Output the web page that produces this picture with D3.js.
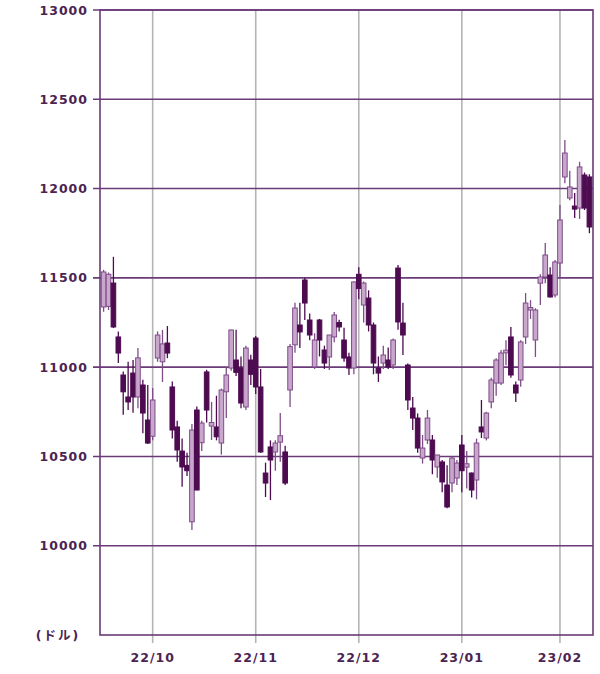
<!DOCTYPE html>
<html><head><meta charset="utf-8">
<script src="https://cdn.jsdelivr.net/npm/d3@7"></script>
<style>
html,body{margin:0;padding:0;background:#fff;}
svg{display:block;}
text{font-family:"DejaVu Sans","Noto Sans CJK JP",sans-serif;font-weight:bold;fill:#4b2352;}
</style></head>
<body>
<svg id="chart" width="600" height="674"></svg>
<script>
const dates = [
"2022-09-19","2022-09-20","2022-09-21","2022-09-22","2022-09-23","2022-09-26","2022-09-27","2022-09-28","2022-09-29","2022-09-30",
"2022-10-03","2022-10-04","2022-10-05","2022-10-06","2022-10-07","2022-10-10","2022-10-11","2022-10-12","2022-10-13","2022-10-14",
"2022-10-17","2022-10-18","2022-10-19","2022-10-20","2022-10-21","2022-10-24","2022-10-25","2022-10-26","2022-10-27","2022-10-28","2022-10-31",
"2022-11-01","2022-11-02","2022-11-03","2022-11-04","2022-11-07","2022-11-08","2022-11-09","2022-11-10","2022-11-11","2022-11-14",
"2022-11-15","2022-11-16","2022-11-17","2022-11-18","2022-11-21","2022-11-22","2022-11-23","2022-11-25","2022-11-28","2022-11-29","2022-11-30",
"2022-12-01","2022-12-02","2022-12-05","2022-12-06","2022-12-07","2022-12-08","2022-12-09","2022-12-12","2022-12-13","2022-12-14",
"2022-12-15","2022-12-16","2022-12-19","2022-12-20","2022-12-21","2022-12-22","2022-12-23","2022-12-27","2022-12-28","2022-12-29","2022-12-30",
"2023-01-03","2023-01-04","2023-01-05","2023-01-06","2023-01-09","2023-01-10","2023-01-11","2023-01-12","2023-01-13","2023-01-17",
"2023-01-18","2023-01-19","2023-01-20","2023-01-23","2023-01-24","2023-01-25","2023-01-26","2023-01-27","2023-01-30","2023-01-31",
"2023-02-01","2023-02-02","2023-02-03","2023-02-06","2023-02-07","2023-02-08","2023-02-09"
];
const open = [
11337,11340,11471,11169,10956,10833,10967,10833,10900,10704,
10613,11051,11030,11135,10889,10665,10530,10450,10134,10760,
10577,10973,10670,10665,10575,10862,10995,11040,10995,10777,11040,
11163,10889,10407,10553,10525,10580,10525,10872,11125,11236,
11488,11264,11001,11264,11096,11057,11169,11250,11152,11057,10995,
11520,11348,11387,11236,10995,11023,11040,11012,11555,11247,
11012,10771,10715,10491,10592,10592,10441,10469,10340,10351,10379,
10564,10440,10407,10368,10665,10603,10805,10911,10911,11080,
11169,10900,10928,11169,11320,11152,11470,11505,11516,11404,
11583,12065,11947,11902,11891,12076,12065
];
const high = [
11545,11530,11618,11200,10975,11030,11040,11107,10930,10900,
10883,11200,11208,11230,10920,10700,10600,10520,10682,10780,
10700,10985,10805,10840,10880,11001,11210,11210,11060,11120,11070,
11175,10990,10465,10590,10590,10743,10560,11130,11360,11360,
11500,11300,11190,11270,11120,11180,11309,11265,11220,11080,11480,
11560,11480,11430,11250,11060,11120,11110,11160,11572,11360,
11020,10833,10740,10620,10760,10620,10510,10480,10450,10500,10480,
10620,10530,10410,10600,10816,10750,10940,11050,11096,11150,
11225,10920,11150,11415,11375,11330,11520,11695,11560,11600,
11908,12272,12100,11975,12150,12090,12080
];
const low = [
11310,11320,11219,11023,10733,10760,10745,10770,10630,10570,
10590,11030,10917,11050,10600,10470,10330,10390,10088,10310,
10530,10690,10592,10590,10510,10715,10980,10950,10770,10760,10900,
10850,10520,10273,10256,10420,10470,10340,10777,11080,11107,
11264,11150,10990,11060,10990,10984,11140,11200,11030,10956,10960,
11380,11250,11200,10960,10917,10990,10990,10990,11210,11068,
10760,10648,10520,10460,10570,10400,10380,10300,10210,10300,10340,
10300,10320,10270,10260,10603,10590,10770,10840,10900,11010,
10940,10805,10890,11130,11270,11057,11348,11470,11390,11390,
11500,12030,11935,11835,11830,11880,11750
];
const close = [
11533,11520,11225,11079,10862,10805,10833,11052,10743,10575,
10816,11180,11130,11079,10648,10536,10441,10420,10648,10312,
10687,10760,10690,10610,10872,10956,11208,10971,10799,11107,10960,
10889,10525,10351,10480,10575,10616,10351,11115,11331,11197,
11359,11180,11152,11152,11023,11180,11292,11225,11051,10995,11477,
11440,11471,11236,11023,10967,11068,11001,11152,11253,11180,
10816,10715,10547,10547,10715,10480,10508,10357,10217,10491,10463,
10420,10459,10312,10575,10637,10743,10928,11040,11079,11095,
10956,10855,11141,11359,11334,11320,11505,11628,11393,11589,
11824,12199,12009,11885,12121,11891,11785
];
const yTicks = [10000,10500,11000,11500,12000,12500,13000];
const monthTickDates = ["2022-10-03","2022-11-01","2022-12-01","2023-01-03","2023-02-01"];
const monthTickLabels = ["22/10","22/11","22/12","23/01","23/02"];
const unitLabel = "(ドル)";

const svg = d3.select("#chart");
const L = 100, R = 593, T = 10, B = 635;
const x = d3.scaleBand().domain(dates).range([101, 592]).padding(0.06);
const y = d3.scaleLinear().domain([9500, 13000]).range([B, T]);
const gridPurple = "#6b3a78", textCol = "#4b2352";

// vertical gridlines
svg.append("g").selectAll("line").data(monthTickDates).join("line")
  .attr("x1", d => x(d) + x.bandwidth()/2).attr("x2", d => x(d) + x.bandwidth()/2)
  .attr("y1", T).attr("y2", B + 8)
  .attr("stroke", "#b4b4b4").attr("stroke-width", 1.6);

// horizontal gridlines
svg.append("g").selectAll("line").data(yTicks).join("line")
  .attr("x1", L - 7).attr("x2", R).attr("y1", d => y(d)).attr("y2", d => y(d))
  .attr("stroke", gridPurple).attr("stroke-width", 1.6);

// frame
svg.append("rect").attr("x", L).attr("y", T).attr("width", R - L).attr("height", B - T)
  .attr("fill", "none").attr("stroke", gridPurple).attr("stroke-width", 1.6);

// y labels
svg.append("g").selectAll("text").data(yTicks).join("text")
  .attr("x", 88).attr("y", d => y(d)).attr("dy", "0.36em")
  .attr("text-anchor", "end").attr("font-size", 12.5).attr("letter-spacing", 1)
  .text(d => d);

// x labels
svg.append("g").selectAll("text").data(monthTickDates).join("text")
  .attr("x", d => x(d) + x.bandwidth()/2).attr("y", 657).attr("dy", "0.36em")
  .attr("text-anchor", "middle").attr("font-size", 12.5).attr("letter-spacing", 1)
  .text((d, i) => monthTickLabels[i]);

svg.append("text").attr("x", 58).attr("y", 635).attr("dy", "0.36em")
  .attr("text-anchor", "middle").attr("font-size", 12.5).attr("letter-spacing", 2)
  .text(unitLabel);

// candles
const data = dates.map((d, i) => ({d, o: open[i], h: high[i], l: low[i], c: close[i]}));
const upFill = "#c9a7cd", upStroke = "#7e4d88", dnFill = "#4d0b50";
const g = svg.append("g");
g.selectAll("line").data(data).join("line")
  .attr("x1", d => x(d.d) + x.bandwidth()/2).attr("x2", d => x(d.d) + x.bandwidth()/2)
  .attr("y1", d => y(d.h)).attr("y2", d => y(d.l))
  .attr("stroke", d => d.c >= d.o ? upStroke : dnFill).attr("stroke-width", 1.3);
g.selectAll("rect").data(data).join("rect")
  .attr("x", d => x(d.d)).attr("width", x.bandwidth())
  .attr("y", d => y(Math.max(d.o, d.c)))
  .attr("height", d => Math.max(1.5, Math.abs(y(d.o) - y(d.c))))
  .attr("fill", d => d.c >= d.o ? upFill : dnFill)
  .attr("stroke", d => d.c >= d.o ? upStroke : dnFill).attr("stroke-width", 1);
</script>
</body></html>
